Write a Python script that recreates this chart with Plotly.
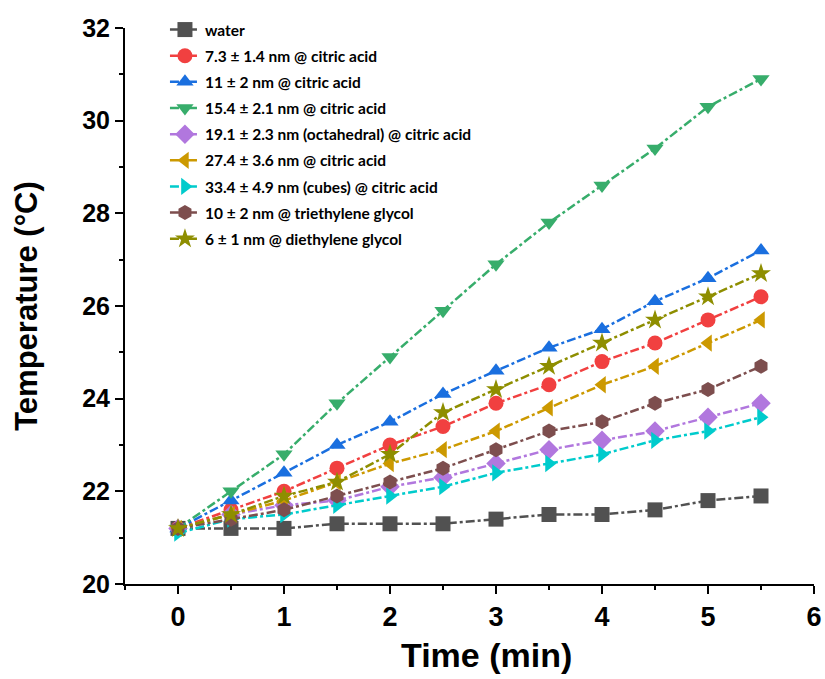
import plotly.graph_objects as go

# Heating time (min)
time_min = [0, 0.5, 1, 1.5, 2, 2.5, 3, 3.5, 4, 4.5, 5, 5.5]

# Temperature (°C) for each sample
water = [21.2, 21.2, 21.2, 21.3, 21.3, 21.3, 21.4, 21.5, 21.5, 21.6, 21.8, 21.9]
ca_7_3 = [21.2, 21.6, 22.0, 22.5, 23.0, 23.4, 23.9, 24.3, 24.8, 25.2, 25.7, 26.2]
ca_11 = [21.2, 21.8, 22.4, 23.0, 23.5, 24.1, 24.6, 25.1, 25.5, 26.1, 26.6, 27.2]
ca_15_4 = [21.2, 22.0, 22.8, 23.9, 24.9, 25.9, 26.9, 27.8, 28.6, 29.4, 30.3, 30.9]
ca_19_1 = [21.2, 21.5, 21.7, 21.8, 22.1, 22.3, 22.6, 22.9, 23.1, 23.3, 23.6, 23.9]
ca_27_4 = [21.2, 21.5, 21.8, 22.2, 22.6, 22.9, 23.3, 23.8, 24.3, 24.7, 25.2, 25.7]
ca_33_4 = [21.1, 21.4, 21.5, 21.7, 21.9, 22.1, 22.4, 22.6, 22.8, 23.1, 23.3, 23.6]
teg_10 = [21.2, 21.4, 21.6, 21.9, 22.2, 22.5, 22.9, 23.3, 23.5, 23.9, 24.2, 24.7]
deg_6 = [21.2, 21.5, 21.9, 22.2, 22.8, 23.7, 24.2, 24.7, 25.2, 25.7, 26.2, 26.7]

labels = [
    "water",
    "7.3 ± 1.4 nm @ citric acid",
    "11 ± 2 nm @ citric acid",
    "15.4 ± 2.1 nm @ citric acid",
    "19.1 ± 2.3 nm (octahedral) @ citric acid",
    "27.4 ± 3.6 nm @ citric acid",
    "33.4 ± 4.9 nm (cubes) @ citric acid",
    "10 ± 2 nm @ triethylene glycol",
    "6 ± 1 nm @ diethylene glycol",
]
series = [water, ca_7_3, ca_11, ca_15_4, ca_19_1, ca_27_4, ca_33_4, teg_10, deg_6]
colors = ["#515151", "#F14040", "#1A6FDF", "#37AD6B", "#B177DE",
          "#CC9900", "#00CBCC", "#7D4E4E", "#8E8E00"]
symbols = ["square", "circle", "triangle-up", "triangle-down", "diamond",
           "triangle-left", "triangle-right", "hexagon", "star"]

fig = go.Figure()
for i, (name, ys, col, sym) in enumerate(zip(labels, series, colors, symbols)):
    fig.add_trace(go.Scatter(
        x=time_min, y=ys, name=name, mode="lines+markers",
        legendgroup=f"g{i}",
        line=dict(color=col, width=2.5, dash="dashdot"),
        marker=dict(symbol=sym, size=15, color=col, line=dict(width=0)),
    ))

title_font = dict(family="Liberation Sans, Arial", color="black")

fig.update_layout(
    width=825, height=679,
    margin=dict(l=125, r=11, t=28, b=95, autoexpand=False),
    paper_bgcolor="white", plot_bgcolor="white",
    showlegend=True,
    legend=dict(
        x=0.058, y=1.027, xanchor="left", yanchor="top",
        bgcolor="rgba(0,0,0,0)",
        font=dict(family="Lato, Open Sans, sans-serif", size=15.5, color="black", weight="bold"),
        tracegroupgap=3, itemwidth=30,
    ),
    xaxis=dict(
        range=[-0.5, 6], tickmode="linear", tick0=0, dtick=1,
        automargin=False,
        showgrid=False, zeroline=False,
        showline=True, linecolor="black", linewidth=2,
        ticks="outside", ticklen=8, tickwidth=2, tickcolor="black",
        minor=dict(dtick=0.5, tick0=0, ticks="outside", ticklen=4, tickwidth=2, tickcolor="black"),
        tickfont=dict(family="Liberation Sans Narrow, Liberation Sans, Arial", size=27,
                      color="black", weight="bold"),
    ),
    yaxis=dict(
        range=[20, 32], tickmode="linear", tick0=20, dtick=2,
        automargin=False,
        showgrid=False, zeroline=False,
        showline=True, linecolor="black", linewidth=2,
        ticks="outside", ticklen=8, tickwidth=2, tickcolor="black",
        minor=dict(dtick=1, tick0=20, ticks="outside", ticklen=4, tickwidth=2, tickcolor="black"),
        tickfont=dict(family="Liberation Sans, Arial", size=25, color="black", weight="bold"),
    ),
    annotations=[
        dict(
            text="<b>Time (min)</b>", xref="paper", yref="paper",
            x=0.525, y=-0.128, xanchor="center", yanchor="middle", showarrow=False,
            font=dict(**title_font, size=34),
        ),
        dict(
            text="<b>Temperature (°C)</b>", xref="paper", yref="paper",
            x=-0.144, y=0.5, xanchor="center", yanchor="middle", showarrow=False,
            textangle=-90, font=dict(**title_font, size=31),
        ),
    ],
)

fig.write_html("out.html")
